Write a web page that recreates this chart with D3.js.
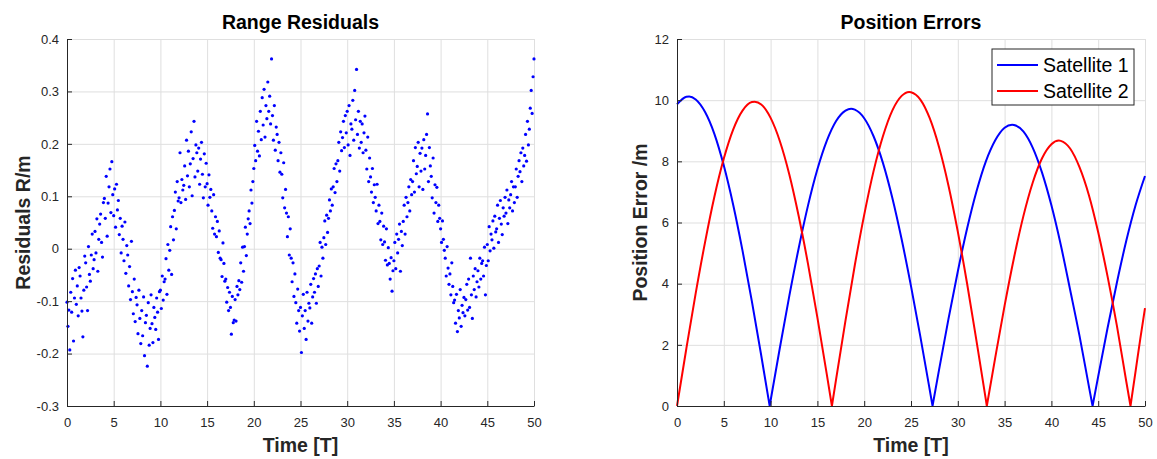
<!DOCTYPE html>
<html>
<head>
<meta charset="utf-8">
<script src="https://d3js.org/d3.v7.min.js"></script>
<style>
  html, body { margin: 0; padding: 0; background: #fff; }
  svg { display: block; font-family: "Liberation Sans", Arial, Helvetica, sans-serif; }
  .tick text { fill: #262626; font-size: 13px; }
</style>
</head>
<body>
<div class="container"></div>
<script>
var SVG_WIDTH = 1157;
var SVG_HEIGHT = 459;
var PLOT_TOP = 39;
var PLOT_BOTTOM = 406;
var GRID_COLOR = '#dfdfdf';
var AXIS_COLOR = '#262626';

// shared time axis
var timeDomain = [0, 50];
var timeTicks = [0, 5, 10, 15, 20, 25, 30, 35, 40, 45, 50];
var timeStep = 0.1;

// left panel: range residuals, one sample every 0.1 T
var residualTicks = [-0.3, -0.2, -0.1, 0, 0.1, 0.2, 0.3, 0.4];
var residuals = [
    -0.102, -0.148, -0.117, -0.193, -0.083, -0.121, -0.057, -0.176, -0.094, -0.041,
    -0.106, -0.071, -0.128, -0.036, -0.052, -0.094, -0.119, -0.168, -0.079, -0.014,
    -0.027, -0.073, -0.118, 0.004, -0.049, -0.062, -0.012, 0.028, -0.038, -0.021,
    0.033, -0.008, 0.057, -0.043, 0.018, 0.047, 0.066, 0.012, -0.016, 0.088,
    0.096, 0.058, 0.138, 0.024, 0.087, 0.118, 0.152, 0.069, 0.166, 0.103,
    0.063, 0.114, 0.041, 0.123, 0.074, 0.092, 0.027, 0.058, -0.008, 0.043,
    0.018, -0.023, 0.051, -0.047, 0.006, -0.012, -0.071, -0.034, -0.097, 0.014,
    -0.082, -0.124, -0.058, -0.139, -0.093, -0.107, -0.162, -0.079, -0.133, -0.181,
    -0.118, -0.166, -0.092, -0.204, -0.141, -0.127, -0.224, -0.103, -0.184, -0.152,
    -0.088, -0.143, -0.179, -0.112, -0.131, -0.154, -0.094, -0.121, -0.173, -0.082,
    -0.079, -0.114, -0.052, -0.098, -0.063, -0.058, -0.019, -0.087, 0.008, -0.041,
    -0.003, 0.042, -0.049, 0.061, 0.017, 0.073, 0.108, 0.038, 0.128, 0.091,
    0.097, 0.183, 0.088, 0.132, 0.112, 0.121, 0.158, 0.094, 0.207, 0.139,
    0.186, 0.118, 0.162, 0.223, 0.101, 0.172, 0.243, 0.137, 0.198, 0.183,
    0.148, 0.192, 0.123, 0.171, 0.203, 0.142, 0.097, 0.181, 0.118, 0.163,
    0.124, 0.083, 0.141, 0.098, 0.113, 0.072, 0.039, 0.103, 0.028, 0.061,
    0.023, 0.052, -0.007, 0.034, -0.018, -0.021, -0.053, 0.011, -0.028, -0.062,
    -0.058, -0.102, -0.074, -0.118, -0.083, -0.112, -0.163, -0.091, -0.141, -0.136,
    -0.097, -0.138, -0.072, -0.088, -0.061, -0.078, -0.027, -0.064, 0.003, -0.043,
    0.004, 0.041, -0.013, 0.028, 0.057, 0.072, 0.048, 0.112, 0.087, 0.128,
    0.153, 0.197, 0.168, 0.243, 0.186, 0.224, 0.177, 0.262, 0.208, 0.288,
    0.236, 0.304, 0.213, 0.273, 0.248, 0.318, 0.262, 0.291, 0.238, 0.362,
    0.254, 0.207, 0.273, 0.188, 0.232, 0.218, 0.168, 0.203, 0.146, 0.183,
    0.142, 0.097, 0.164, 0.078, 0.113, 0.068, 0.023, 0.061, -0.012, 0.038,
    -0.018, -0.063, -0.027, -0.091, -0.048, -0.103, -0.142, -0.077, -0.118, -0.157,
    -0.112, -0.198, -0.128, -0.087, -0.152, -0.118, -0.173, -0.083, -0.138, -0.104,
    -0.113, -0.068, -0.142, -0.092, -0.057, -0.083, -0.048, -0.104, -0.038, -0.072,
    -0.033, 0.012, -0.052, 0.003, -0.018, 0.021, 0.053, 0.008, 0.064, 0.031,
    0.058, 0.093, 0.072, 0.114, 0.083, 0.118, 0.153, 0.107, 0.162, 0.128,
    0.168, 0.203, 0.148, 0.223, 0.187, 0.212, 0.243, 0.193, 0.254, 0.221,
    0.262, 0.198, 0.273, 0.178, 0.238, 0.228, 0.283, 0.207, 0.302, 0.246,
    0.342, 0.218, 0.262, 0.192, 0.243, 0.203, 0.238, 0.183, 0.221, 0.253,
    0.188, 0.152, 0.213, 0.128, 0.173, 0.137, 0.108, 0.153, 0.088, 0.122,
    0.098, 0.072, 0.123, 0.048, 0.083, 0.052, 0.017, 0.068, 0.008, 0.043,
    0.013, -0.022, 0.038, -0.031, 0.002, -0.028, -0.058, -0.017, -0.081, -0.042,
    -0.023, 0.012, -0.038, 0.028, -0.008, 0.018, 0.047, -0.043, 0.033, 0.006,
    0.052, 0.083, 0.028, 0.098, 0.061, 0.088, 0.118, 0.072, 0.132, 0.103,
    0.128, 0.168, 0.108, 0.193, 0.143, 0.157, 0.203, 0.118, 0.182, 0.148,
    0.192, 0.113, 0.208, 0.152, 0.178, 0.218, 0.257, 0.128, 0.193, 0.158,
    0.138, 0.097, 0.173, 0.068, 0.122, 0.088, 0.117, 0.052, 0.083, 0.058,
    0.038, 0.012, 0.053, 0.018, -0.003, -0.018, -0.052, 0.004, -0.037, -0.068,
    -0.048, -0.088, -0.027, -0.072, -0.103, -0.098, -0.142, -0.087, -0.158, -0.118,
    -0.132, -0.078, -0.148, -0.108, -0.122, -0.093, -0.128, -0.097, -0.068, -0.117,
    -0.058, -0.112, -0.018, -0.088, -0.133, -0.052, -0.078, -0.038, -0.092, -0.063,
    -0.042, -0.073, -0.018, -0.058, -0.028, -0.023, -0.052, 0.003, -0.088, -0.032,
    0.008, -0.023, 0.042, -0.004, 0.028, 0.017, 0.053, 0.001, 0.062, 0.032,
    0.038, 0.083, 0.012, 0.058, 0.092, 0.047, 0.027, 0.078, 0.062, 0.098,
    0.068, 0.112, 0.048, 0.093, 0.078, 0.103, 0.128, 0.072, 0.118, 0.088,
    0.118, 0.152, 0.098, 0.138, 0.168, 0.147, 0.183, 0.128, 0.192, 0.158,
    0.178, 0.218, 0.167, 0.243, 0.198, 0.228, 0.268, 0.302, 0.258, 0.328,
    0.362
];

// right panel: position errors
var errorTicks = [0, 2, 4, 6, 8, 10, 12];
var sat1Time = [0, 1, 1.3, 2, 3, 4, 5, 6, 7, 8, 9, 9.9,
    10, 11, 12, 13, 14, 15, 16, 17, 18, 18.6, 19, 20, 21, 22, 23, 24, 25, 26, 27, 27.3,
    28, 29, 30, 31, 32, 33, 34, 35, 35.8, 36, 37, 38, 39, 40, 41, 42, 43, 44, 44.4,
    45, 46, 47, 48, 49, 50];
var sat1Error = [9.86, 10.11, 10.12, 10.02, 9.61, 8.89, 7.86, 6.58, 5.08, 3.42, 1.65, 0,
    0.18, 1.92, 3.60, 5.16, 6.56, 7.74, 8.67, 9.32, 9.66, 9.72, 9.69, 9.41, 8.82, 7.95, 6.81, 5.45, 3.92, 2.27, 0.53, 0,
    1.19, 2.84, 4.40, 5.81, 7.02, 8.00, 8.69, 9.10, 9.20, 9.19, 8.98, 8.45, 7.63, 6.56, 5.27, 3.80, 2.30, 0.65, 0,
    0.97, 2.55, 4.04, 5.40, 6.57, 7.52];
var sat2Time = [0, 1, 2, 3, 4, 5, 6, 7, 8, 8.3, 9, 10, 11, 12, 13, 14, 15, 16, 16.55,
    17, 18, 19, 20, 21, 22, 23, 24, 24.8, 25, 26, 27, 28, 29, 30, 31, 32, 33, 33.1,
    34, 35, 36, 37, 38, 39, 40, 40.8, 41, 42, 43, 44, 45, 46, 47, 48, 48.45,
    49, 49.5, 50];
var sat2Error = [0, 1.88, 3.69, 5.36, 6.85, 8.09, 9.04, 9.66, 9.94, 9.95, 9.86, 9.42, 8.65, 7.57, 6.21, 4.64, 2.89, 1.04, 0,
    0.88, 2.79, 4.61, 6.25, 7.68, 8.82, 9.66, 10.14, 10.27, 10.26, 10.02, 9.41, 8.46, 7.21, 5.70, 3.99, 2.12, 0.20, 0,
    1.58, 3.28, 4.84, 6.20, 7.30, 8.10, 8.56, 8.68, 8.67, 8.42, 7.81, 6.90, 5.68, 4.24, 2.62, 0.80, 0,
    1.15, 2.2, 3.2];
var seriesNames = ['Satellite 1', 'Satellite 2'];
var seriesColors = ['#0000ff', '#ff0000'];

var svg = d3.select('.container')
    .append('svg')
    .attr('width', SVG_WIDTH)
    .attr('height', SVG_HEIGHT);

function drawFrame(panel) {
    var x = panel.x, y = panel.y;
    var g = svg.append('g');

    // grid lines
    g.append('g')
        .attr('transform', 'translate(0,' + PLOT_BOTTOM + ')')
        .call(d3.axisBottom(x).tickValues(timeTicks).tickSize(-(PLOT_BOTTOM - PLOT_TOP)).tickFormat(''))
        .call(function (s) { s.select('.domain').remove(); })
        .selectAll('line').attr('stroke', GRID_COLOR);
    g.append('g')
        .attr('transform', 'translate(' + x.range()[0] + ',0)')
        .call(d3.axisLeft(y).tickValues(panel.ticks).tickSize(-(x.range()[1] - x.range()[0])).tickFormat(''))
        .call(function (s) { s.select('.domain').remove(); })
        .selectAll('line').attr('stroke', GRID_COLOR);

    // title
    svg.append('text')
        .attr('x', (x.range()[0] + x.range()[1]) / 2)
        .attr('y', 29)
        .attr('text-anchor', 'middle')
        .style('font-size', '19.5px')
        .style('font-weight', 'bold')
        .style('fill', '#000')
        .text(panel.title);

    svg.append('text')
        .attr('x', (x.range()[0] + x.range()[1]) / 2)
        .attr('y', 452)
        .attr('text-anchor', 'middle')
        .style('font-size', '19.5px')
        .style('font-weight', 'bold')
        .style('fill', '#262626')
        .text('Time [T]');

    svg.append('text')
        .attr('transform', 'translate(' + panel.yLabelX + ',' + (PLOT_TOP + PLOT_BOTTOM) / 2 + ') rotate(-90)')
        .attr('text-anchor', 'middle')
        .style('font-size', '19.5px')
        .style('font-weight', 'bold')
        .style('fill', '#262626')
        .text(panel.yLabel);
}

function drawAxes(panel) {
    var x = panel.x, y = panel.y;
    var xAxis = svg.append('g')
        .attr('transform', 'translate(0,' + PLOT_BOTTOM + ')')
        .call(d3.axisBottom(x).tickValues(timeTicks).tickSizeInner(-5).tickSizeOuter(0).tickPadding(12));
    var yAxis = svg.append('g')
        .attr('transform', 'translate(' + x.range()[0] + ',0)')
        .call(d3.axisLeft(y).tickValues(panel.ticks).tickSizeInner(-5).tickSizeOuter(0).tickPadding(8)
            .tickFormat(panel.format));
    [xAxis, yAxis].forEach(function (a) {
        a.attr('font-family', null).attr('font-size', null);
        a.selectAll('.domain, line').attr('stroke', AXIS_COLOR);
    });
}

// ---- left panel
var xRes = d3.scaleLinear().domain(timeDomain).range([67, 534]);
var yRes = d3.scaleLinear().domain([-0.3, 0.4]).range([PLOT_BOTTOM, PLOT_TOP]);
var leftPanel = {
    x: xRes, y: yRes, ticks: residualTicks,
    title: 'Range Residuals', yLabel: 'Residuals R/m', yLabelX: 30,
    format: function (d) { return d === 0 ? '0' : d.toFixed(1); }
};
drawFrame(leftPanel);

svg.append('g')
    .selectAll('circle')
    .data(residuals)
    .enter()
    .append('circle')
    .attr('cx', function (d, i) { return xRes(i * timeStep); })
    .attr('cy', function (d) { return yRes(d); })
    .attr('r', 1.6)
    .attr('fill', '#0000ff');

drawAxes(leftPanel);

// ---- right panel
var xPos = d3.scaleLinear().domain(timeDomain).range([677, 1145]);
var yPos = d3.scaleLinear().domain([0, 12]).range([PLOT_BOTTOM, PLOT_TOP]);
var rightPanel = {
    x: xPos, y: yPos, ticks: errorTicks,
    title: 'Position Errors', yLabel: 'Position Error /m', yLabelX: 647,
    format: function (d) { return String(d); }
};
drawFrame(rightPanel);

// split each series into arcs at its zero points so the cusps stay sharp
function toArcs(times, values) {
    var arcs = [], current = [];
    times.forEach(function (t, i) {
        current.push([t, values[i]]);
        if (values[i] === 0 && i > 0 && i < times.length - 1) {
            arcs.push(current);
            current = [[t, values[i]]];
        }
    });
    arcs.push(current);
    return arcs;
}

var line = d3.line()
    .x(function (d) { return xPos(d[0]); })
    .y(function (d) { return yPos(d[1]); })
    .curve(d3.curveMonotoneX);

var series = [
    { name: seriesNames[0], color: seriesColors[0], arcs: toArcs(sat1Time, sat1Error) },
    { name: seriesNames[1], color: seriesColors[1], arcs: toArcs(sat2Time, sat2Error) }
];

svg.append('g')
    .selectAll('path')
    .data(series)
    .enter()
    .append('path')
    .attr('d', function (s) { return s.arcs.map(line).join(''); })
    .attr('fill', 'none')
    .attr('stroke', function (s) { return s.color; })
    .attr('stroke-width', 2)
    .attr('stroke-linejoin', 'round');

drawAxes(rightPanel);

// legend
var legend = svg.append('g').attr('transform', 'translate(992,49)');
legend.append('rect')
    .attr('width', 142)
    .attr('height', 56)
    .attr('fill', '#fff')
    .attr('stroke', AXIS_COLOR)
    .attr('stroke-width', 1);
var legendItem = legend.selectAll('.legend-item')
    .data(series)
    .enter()
    .append('g')
    .attr('class', 'legend-item')
    .attr('transform', function (d, i) { return 'translate(0,' + (16 + i * 26) + ')'; });
legendItem.append('line')
    .attr('x1', 5)
    .attr('x2', 46)
    .attr('stroke', function (d) { return d.color; })
    .attr('stroke-width', 2);
legendItem.append('text')
    .attr('x', 51)
    .attr('y', 7)
    .style('font-size', '19.5px')
    .style('fill', '#000')
    .text(function (d) { return d.name; });
</script>
</body>
</html>
